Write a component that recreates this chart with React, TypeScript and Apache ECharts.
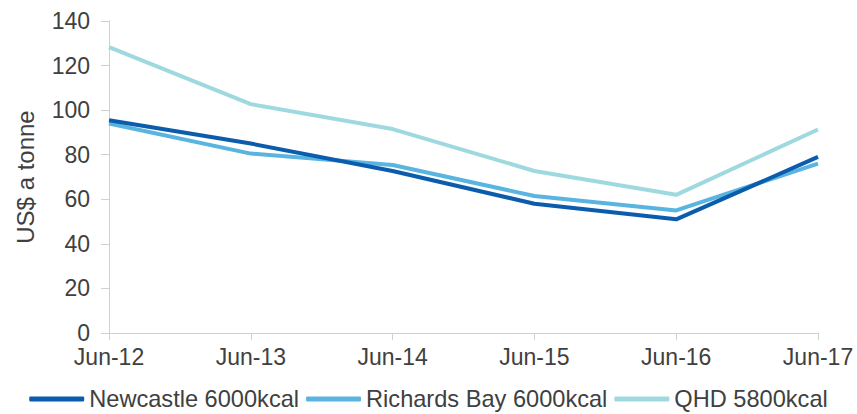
import React, { useEffect, useRef } from "react";
import * as echarts from "echarts";

const categories = ["Jun-12", "Jun-13", "Jun-14", "Jun-15", "Jun-16", "Jun-17"];
const newcastle = [95.5, 85, 72.7, 58, 51, 79];
const richardsBay = [94, 80.5, 75.4, 61.5, 55, 76];
const qhd = [128.3, 102.7, 91.5, 72.7, 62, 91.3];
const seriesNames = ["Newcastle 6000kcal", "Richards Bay 6000kcal", "QHD 5800kcal"];
const colors = ["#0B5CAD", "#5AB4E0", "#9FD9E0"];

export default function App() {
  const ref = useRef<HTMLDivElement>(null);
  useEffect(() => {
    if (!ref.current) return;
    const chart = echarts.init(ref.current, undefined, { renderer: "svg" });
    const font = "'Liberation Sans', Arial, sans-serif";
    const textColor = "#404040";
    const datasets = [newcastle, richardsBay, qhd];
    chart.setOption({
      animation: false,
      textStyle: { fontFamily: font },
      grid: { left: 109, right: 39, top: 21, bottom: 81 },
      legend: {
        bottom: -2,
        left: "center",
        itemWidth: 55,
        itemHeight: 5,
        itemGap: 7,
        icon: "roundRect",
        data: seriesNames,
        textStyle: { fontFamily: font, fontSize: 23.6, color: textColor },
      },
      xAxis: {
        type: "category",
        data: categories,
        boundaryGap: false,
        axisLine: { lineStyle: { color: "#D0D0D0", width: 1 } },
        axisTick: { show: true, length: 7, lineStyle: { color: "#D0D0D0" } },
        axisLabel: { fontFamily: font, fontSize: 23, color: textColor, margin: 12 },
        splitLine: { show: false },
      },
      yAxis: {
        type: "value",
        min: 0,
        max: 140,
        interval: 20,
        name: "US$ a tonne",
        nameLocation: "middle",
        nameGap: 72,
        nameTextStyle: { fontFamily: font, fontSize: 24, color: textColor },
        axisLine: { show: true, lineStyle: { color: "#D0D0D0", width: 1 } },
        axisTick: { show: true, length: 8, lineStyle: { color: "#D0D0D0" } },
        axisLabel: { fontFamily: font, fontSize: 23, color: textColor, margin: 19 },
        splitLine: { show: false },
      },
      series: seriesNames.map((name, i) => ({
        name,
        type: "line",
        data: datasets[i],
        symbol: "none",
        lineStyle: { width: 4, color: colors[i] },
        itemStyle: { color: colors[i] },
        z: 10 - i,
      })),
    });
    return () => chart.dispose();
  }, []);
  return (
    <div
      ref={ref}
      style={{ position: "absolute", left: 0, top: 0, width: 857, height: 414 }}
    />
  );
}
